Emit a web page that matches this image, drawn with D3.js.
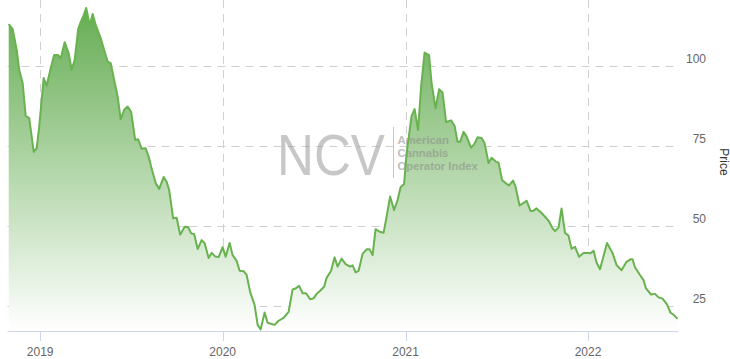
<!DOCTYPE html>
<html>
<head>
<meta charset="utf-8">
<script src="https://cdn.jsdelivr.net/npm/d3@7"></script>
<style>
  body { margin: 0; background: #fff; }
  svg text { font-family: "Liberation Sans", Arial, sans-serif; }
</style>
</head>
<body>
<div id="chart"></div>
<script>
// weekly closes of the index
const dates = ["2018-10-30","2018-11-07","2018-11-15","2018-11-20","2018-11-27","2018-12-03","2018-12-10","2018-12-19","2018-12-25","2018-12-30",
"2019-01-08","2019-01-14","2019-01-22","2019-01-29","2019-02-06","2019-02-11","2019-02-19","2019-02-27","2019-03-05","2019-03-11",
"2019-03-18","2019-03-22","2019-03-29","2019-04-03","2019-04-10","2019-04-16","2019-04-22","2019-05-02","2019-05-09","2019-05-16",
"2019-05-22","2019-05-29","2019-06-05","2019-06-11","2019-06-18","2019-06-25","2019-07-02","2019-07-10","2019-07-16","2019-07-23",
"2019-07-31","2019-08-06","2019-08-11","2019-08-20","2019-08-27","2019-09-05","2019-09-11","2019-09-16","2019-09-24","2019-10-01",
"2019-10-08","2019-10-17","2019-10-24","2019-10-30","2019-11-05","2019-11-12","2019-11-20","2019-11-26","2019-12-04","2019-12-10",
"2019-12-17","2019-12-24","2020-01-01","2020-01-07","2020-01-15","2020-01-21","2020-01-29","2020-02-04","2020-02-12","2020-02-18",
"2020-02-25","2020-03-05","2020-03-11","2020-03-17","2020-03-25","2020-03-31","2020-04-08","2020-04-14","2020-04-22","2020-05-02",
"2020-05-12","2020-05-20","2020-05-26","2020-06-02","2020-06-09","2020-06-16","2020-06-24","2020-07-01","2020-07-07","2020-07-14",
"2020-07-22","2020-07-27","2020-08-05","2020-08-12","2020-08-18","2020-08-26","2020-09-03","2020-09-12","2020-09-17","2020-09-23",
"2020-09-29","2020-10-07","2020-10-15","2020-10-21","2020-10-27","2020-11-02","2020-11-10","2020-11-18","2020-11-24","2020-12-01",
"2020-12-09","2020-12-16","2020-12-22","2020-12-29","2021-01-03","2021-01-13","2021-01-19","2021-01-26","2021-02-01","2021-02-08",
"2021-02-17","2021-02-22","2021-03-02","2021-03-09","2021-03-16","2021-03-23","2021-04-02","2021-04-09","2021-04-15","2021-04-20",
"2021-04-27","2021-05-03","2021-05-12","2021-05-18","2021-05-25","2021-06-02","2021-06-08","2021-06-16","2021-06-22","2021-06-30",
"2021-07-06","2021-07-13","2021-07-20","2021-07-27","2021-08-04","2021-08-09","2021-08-17","2021-08-25","2021-08-31","2021-09-08",
"2021-09-14","2021-09-20","2021-09-29","2021-10-07","2021-10-14","2021-10-22","2021-10-27","2021-11-03","2021-11-09","2021-11-16",
"2021-11-23","2021-11-29","2021-12-06","2021-12-14","2021-12-23","2021-12-31","2022-01-06","2022-01-12","2022-01-18","2022-01-25",
"2022-02-08","2022-02-19","2022-02-27","2022-03-09","2022-03-19","2022-03-27","2022-03-31","2022-04-05","2022-04-15","2022-04-22",
"2022-04-27","2022-05-07","2022-05-15","2022-05-22","2022-05-30","2022-06-08","2022-06-15","2022-06-21","2022-06-29"];

const prices = [113.1, 111.5, 105.0, 98.8, 94.6, 84.4, 83.7, 73.2, 74.3, 81.0,
  96.2, 93.8, 99.3, 103.4, 103.4, 102.4, 107.4, 104.0, 98.8, 101.9,
  111.5, 113.3, 115.9, 118.1, 112.8, 116.2, 112.8, 108.7, 105.0, 101.3,
  100.9, 95.6, 90.4, 83.4, 86.3, 87.3, 85.6, 76.9, 77.1, 74.2,
  74.3, 71.7, 68.5, 63.4, 61.6, 65.3, 63.8, 61.3, 52.4, 52.6,
  47.3, 49.8, 49.7, 47.7, 47.5, 42.8, 45.6, 44.6, 40.0, 41.6,
  40.5, 40.3, 43.4, 40.4, 44.7, 40.9, 39.1, 36.0, 35.9, 34.7,
  29.4, 25.3, 19.1, 17.7, 23.0, 19.8, 19.4, 19.1, 20.4, 21.3,
  23.2, 30.2, 30.5, 31.3, 29.0, 29.0, 27.1, 27.4, 28.8, 29.8,
  31.0, 33.8, 36.0, 40.2, 37.3, 39.8, 38.1, 37.3, 37.7, 35.5,
  36.0, 41.3, 42.7, 42.7, 40.9, 49.0, 48.2, 47.9, 52.9, 59.2,
  55.0, 58.1, 62.1, 63.1, 72.7, 84.4, 86.5, 80.0, 93.5, 104.2,
  103.4, 94.6, 86.8, 92.7, 91.7, 82.5, 83.0, 81.3, 76.3, 76.3,
  79.4, 78.0, 74.5, 75.5, 77.7, 77.5, 75.9, 69.7, 71.3, 70.2,
  69.8, 64.4, 63.4, 62.7, 64.2, 62.3, 56.4, 57.2, 57.9, 54.7,
  54.8, 55.5, 54.2, 52.9, 51.7, 49.3, 48.4, 49.5, 55.5, 47.8,
  47.0, 42.9, 43.5, 40.4, 41.6, 41.6, 41.5, 42.3, 38.6, 36.5,
  44.7, 41.6, 37.8, 36.2, 38.8, 39.6, 39.6, 37.1, 34.7, 33.1,
  30.5, 28.6, 28.8, 27.7, 27.3, 25.5, 22.9, 22.3, 21.0];

const yTicks = [25, 50, 75, 100];
const xTickYears = ["2019", "2020", "2021", "2022"];
const yDomain = [17.2, 120.6];

const width = 730, height = 359;
const plot = { left: 7.5, right: 678, top: 0, bottom: 331 };

const parseDate = d3.timeParse("%Y-%m-%d");
const data = dates.map((d, i) => ({ date: parseDate(d), value: prices[i] }));

const xScale = d3.scaleTime()
  .domain(d3.extent(data, d => d.date))
  .range([8.7, 677.5]);
const yScale = d3.scaleLinear().domain(yDomain).range([plot.bottom, plot.top]);

const svg = d3.select("#chart").append("svg")
  .attr("width", width)
  .attr("height", height);

const defs = svg.append("defs");
const grad = defs.append("linearGradient")
  .attr("id", "areaFill")
  .attr("gradientUnits", "userSpaceOnUse")
  .attr("x1", 0).attr("y1", plot.top)
  .attr("x2", 0).attr("y2", plot.bottom);
grad.append("stop").attr("offset", 0).attr("stop-color", "#62ab4f");
grad.append("stop").attr("offset", 1).attr("stop-color", "#ffffff");

// grid lines
const xTickDates = xTickYears.map(y => parseDate(y + "-01-01"));

svg.append("g")
  .selectAll("line")
  .data(yTicks)
  .join("line")
  .attr("x1", plot.left)
  .attr("x2", plot.right)
  .attr("y1", d => Math.round(yScale(d)) + 0.5)
  .attr("y2", d => Math.round(yScale(d)) + 0.5)
  .attr("stroke", "#d0d0d0")
  .attr("stroke-dasharray", "8,6");

svg.append("g")
  .selectAll("line")
  .data(xTickDates)
  .join("line")
  .attr("x1", d => Math.round(xScale(d)) + 0.5)
  .attr("x2", d => Math.round(xScale(d)) + 0.5)
  .attr("y1", plot.top)
  .attr("y2", plot.bottom)
  .attr("stroke", "#d0d0d0")
  .attr("stroke-dasharray", "8,6");

// area + line
const area = d3.area()
  .x(d => xScale(d.date))
  .y0(plot.bottom)
  .y1(d => yScale(d.value));

const line = d3.line()
  .x(d => xScale(d.date))
  .y(d => yScale(d.value));

svg.append("path")
  .datum(data)
  .attr("d", area)
  .attr("fill", "url(#areaFill)");

// watermark
const wm = svg.append("g").attr("opacity", 0.55);
wm.append("text")
  .attr("x", 277)
  .attr("y", 175)
  .attr("font-size", 58)
  .attr("textLength", 108)
  .attr("lengthAdjust", "spacingAndGlyphs")
  .attr("fill", "#9a9a9a")
  .text("NCV");
wm.append("line")
  .attr("x1", 393.5).attr("x2", 393.5)
  .attr("y1", 127).attr("y2", 178)
  .attr("stroke", "#9a9a9a");
["American", "Cannabis", "Operator Index"].forEach((t, i) => {
  wm.append("text")
    .attr("x", 397.5)
    .attr("y", 143.5 + i * 13)
    .attr("font-size", 11.3)
    .attr("font-weight", "bold")
    .attr("fill", "#8a8a8a")
    .text(t);
});

svg.append("path")
  .datum(data)
  .attr("d", line)
  .attr("fill", "none")
  .attr("stroke", "#68b24f")
  .attr("stroke-width", 2)
  .attr("stroke-linejoin", "round");

// x axis
svg.append("line")
  .attr("x1", plot.left)
  .attr("x2", plot.right)
  .attr("y1", plot.bottom + 0.5)
  .attr("y2", plot.bottom + 0.5)
  .attr("stroke", "#ccd6eb");

svg.append("g")
  .selectAll("line")
  .data(xTickDates)
  .join("line")
  .attr("x1", d => Math.round(xScale(d)) + 0.5)
  .attr("x2", d => Math.round(xScale(d)) + 0.5)
  .attr("y1", plot.bottom)
  .attr("y2", plot.bottom + 10)
  .attr("stroke", "#ccd6eb");

svg.append("g")
  .selectAll("text")
  .data(xTickDates)
  .join("text")
  .attr("x", d => xScale(d))
  .attr("y", 356)
  .attr("text-anchor", "middle")
  .attr("font-size", 12)
  .attr("fill", "#666666")
  .text(d3.timeFormat("%Y"));

// y axis (right side)
svg.append("g")
  .selectAll("text")
  .data(yTicks)
  .join("text")
  .attr("x", 706)
  .attr("y", d => yScale(d) - 3)
  .attr("text-anchor", "end")
  .attr("font-size", 12)
  .attr("fill", "#666666")
  .text(d => d);

svg.append("text")
  .attr("transform", "translate(720,162) rotate(90)")
  .attr("text-anchor", "middle")
  .attr("font-size", 12)
  .attr("fill", "#333333")
  .text("Price");
</script>
</body>
</html>
